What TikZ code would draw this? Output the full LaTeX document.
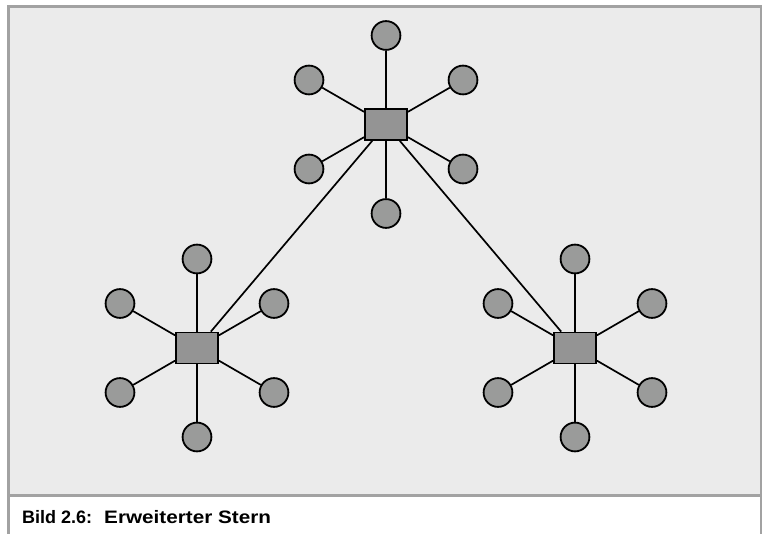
\documentclass[tikz,border=0pt]{standalone}
\usepackage{fontspec}
\setmainfont{Liberation Sans}
\usepackage{graphicx}
\definecolor{panelgray}{HTML}{EBEBEB}
\definecolor{bordergray}{HTML}{A2A2A2}
\definecolor{satgray}{HTML}{9A9B9A}
\definecolor{boxgray}{HTML}{949494}
\tikzset{
  hubbox/.style={draw=black, line width=1.8pt, fill=boxgray, rectangle, minimum width=42pt, minimum height=31pt, inner sep=0pt},
  sat/.style={draw=black, line width=1.8pt, fill=satgray, circle, minimum size=28.8pt, inner sep=0pt},
  link/.style={draw=black, line width=1.7pt},
  frame/.style={draw=bordergray}
}
\begin{document}
\begin{tikzpicture}[x=1pt,y=-1pt]
\useasboundingbox (0,0) rectangle (762,534);
\fill[panelgray] (8.5,6.5) rectangle (761,495);
\draw[frame, line width=3pt] (8.5,534) -- (8.5,6.5) -- (762,6.5);
\draw[frame, line width=3pt] (8.5,495) -- (762,495);
\draw[frame, line width=2pt] (761,5) -- (761,534);

\node[hubbox] (T) at (386,124.5) {};
\node[hubbox] (L) at (197,348) {};
\node[hubbox] (R) at (575,348) {};

\draw[link] (T) -- (L);
\draw[link] (T) -- (R);

\foreach \h in {T,L,R}{
  \foreach \n/\dx/\dy in {n/0/-89, ne/77/-44.5, se/77/44.5, s/0/89, sw/-77/44.5, nw/-77/-44.5}{
    \node[sat] (\h-\n) at ([shift={(\dx,\dy)}]\h) {};
    \draw[link] (\h) -- (\h-\n);
  }
}

\node[anchor=base west, inner sep=0pt, font=\bfseries\fontsize{18}{20}\selectfont] (cap) at (22,523) {Bild 2.6:\hspace*{12pt}\scalebox{1.15}[1]{Erweiterter Stern}};
\end{tikzpicture}
\end{document}
